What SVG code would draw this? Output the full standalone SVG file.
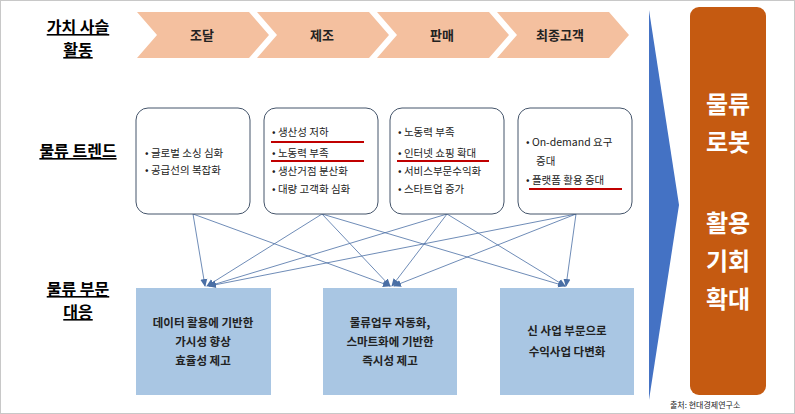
<svg xmlns="http://www.w3.org/2000/svg" width="795" height="414" viewBox="0 0 795 414">
<defs>
<style>
text{font-family:"Noto Sans CJK KR","Noto Sans",sans-serif;}
.h{font-size:16px;font-weight:bold;text-decoration:underline;}
.chev{fill:#f4c09f;}
.ct{font-size:13px;font-weight:bold;fill:#222;}
.tb{fill:#fff;stroke:#44546a;stroke-width:1;}
.bt{font-size:10.5px;fill:#222;}
.ul{stroke:#c00000;stroke-width:2;}
.bl{fill:#a9c6e3;}
.blt{font-size:11.5px;font-weight:bold;fill:#222;text-anchor:middle;}
.cn{stroke:#4a6fa5;stroke-width:0.8;fill:none;marker-end:url(#ar);}
.ot{font-size:24px;font-weight:bold;fill:#fff;text-anchor:middle;}
</style>
<marker id="ar" markerWidth="8" markerHeight="8" refX="7" refY="4" orient="auto" markerUnits="userSpaceOnUse"><path d="M0,0.5 L8,4 L0,7.5 Z" fill="#4a6fa5"/></marker>
</defs>
<rect x="0.5" y="0.5" width="794" height="413" fill="#fff" stroke="#c8c8c8"/>
<g id="labels">
<text class="h" x="78" y="33" text-anchor="middle">가치 사슬</text>
<text class="h" x="78" y="56" text-anchor="middle">활동</text>
<text class="h" x="78" y="157" text-anchor="middle">물류 트렌드</text>
<text class="h" x="78" y="295" text-anchor="middle">물류 부문</text>
<text class="h" x="78" y="318" text-anchor="middle">대응</text>
</g>
<g id="chain">
<polygon class="chev" points="137,12 249,12 269,35 249,58 137,58 157,35"/>
<polygon class="chev" points="257,12 369,12 389,35 369,58 257,58 277,35"/>
<polygon class="chev" points="377,12 489,12 509,35 489,58 377,58 397,35"/>
<polygon class="chev" points="497,12 609,12 629,35 609,58 497,58 517,35"/>
<text class="ct" x="202" y="40" text-anchor="middle">조달</text>
<text class="ct" x="322" y="40" text-anchor="middle">제조</text>
<text class="ct" x="442" y="40" text-anchor="middle">판매</text>
<text class="ct" x="560" y="40" text-anchor="middle">최종고객</text>
</g>
<g id="connectors">
<path class="cn" d="M193,214 L205,286"/>
<path class="cn" d="M193,214 L390,286"/>
<path class="cn" d="M322,214 L207,286"/>
<path class="cn" d="M322,214 L390,286"/>
<path class="cn" d="M322,214 L565,286"/>
<path class="cn" d="M447,214 L209,286"/>
<path class="cn" d="M447,214 L392,286"/>
<path class="cn" d="M447,214 L565,286"/>
<path class="cn" d="M576,214 L209,286"/>
<path class="cn" d="M576,214 L394,286"/>
<path class="cn" d="M576,214 L566,286"/>
</g>
<g id="trend1">
<rect class="tb" x="136" y="108" width="114" height="106" rx="12"/>
<text class="bt" x="145" y="157">•  글로벌 소싱 심화</text>
<text class="bt" x="145" y="174">•  공급선의 복잡화</text>
</g>
<g id="trend2">
<rect class="tb" x="264" y="108" width="114" height="106" rx="12"/>
<text class="bt" x="272" y="136">•  생산성 저하</text>
<line class="ul" x1="271" y1="142" x2="364" y2="142"/>
<text class="bt" x="272" y="157">•  노동력 부족</text>
<line class="ul" x1="271" y1="161" x2="364" y2="161"/>
<text class="bt" x="272" y="175">•  생산거점 분산화</text>
<text class="bt" x="272" y="193">•  대량 고객화 심화</text>
</g>
<g id="trend3">
<rect class="tb" x="390" y="108" width="114" height="106" rx="12"/>
<text class="bt" x="398" y="136">•  노동력 부족</text>
<text class="bt" x="398" y="157">•  인터넷 쇼핑 확대</text>
<line class="ul" x1="397" y1="161" x2="489" y2="161"/>
<text class="bt" x="398" y="175">•  서비스부문수익화</text>
<text class="bt" x="398" y="193">•  스타트업 증가</text>
</g>
<g id="trend4">
<rect class="tb" x="518" y="108" width="114" height="106" rx="12"/>
<text class="bt" x="526" y="146">•  On-demand 요구</text>
<text class="bt" x="536" y="165">증대</text>
<text class="bt" x="526" y="184">•  플랫폼 활용 증대</text>
<line class="ul" x1="529" y1="189" x2="622" y2="189"/>
</g>
<g id="resp1">
<rect class="bl" x="136" y="288" width="135" height="107"/>
<text class="blt" x="203" y="327">데이터 활용에 기반한</text>
<text class="blt" x="203" y="346">가시성 향상</text>
<text class="blt" x="203" y="365">효율성 제고</text>
</g>
<g id="resp2">
<rect class="bl" x="323" y="288" width="134" height="107"/>
<text class="blt" x="390" y="327">물류업무 자동화,</text>
<text class="blt" x="390" y="346">스마트화에 기반한</text>
<text class="blt" x="390" y="365">즉시성 제고</text>
</g>
<g id="resp3">
<rect class="bl" x="500" y="288" width="134" height="107"/>
<text class="blt" x="567" y="335">신 사업 부문으로</text>
<text class="blt" x="567" y="356">수익사업 다변화</text>
</g>
<g id="bigarrow">
<polygon points="649,10 679,205 649,400" fill="#4472c4"/>
</g>
<g id="result">
<rect x="690" y="7" width="76" height="388" rx="9" fill="#c55a11"/>
<text class="ot" x="728" y="113">물류</text>
<text class="ot" x="728" y="151">로봇</text>
<text class="ot" x="728" y="232">활용</text>
<text class="ot" x="728" y="270">기회</text>
<text class="ot" x="728" y="308">확대</text>
</g>
<text x="670" y="408" font-size="8" fill="#222">출처: 현대경제연구소</text>
</svg>
